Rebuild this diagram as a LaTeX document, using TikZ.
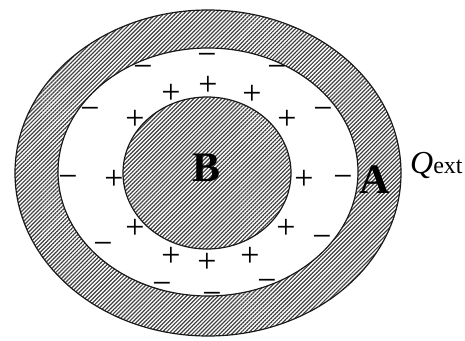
\documentclass[tikz,border=0pt]{standalone}
\usepackage{fontspec}
\setmainfont{Liberation Serif}
\usetikzlibrary{patterns.meta}
\begin{document}
\begin{tikzpicture}[x=1pt,y=-1pt,
  hatch/.style={pattern={Lines[angle=45,distance=2.8pt,line width=1.2pt]},pattern color=black!75},
  rim/.style={draw=black!90,line width=1.2pt},
  sign/.style={inner sep=0pt,text height=19.6pt,text depth=0pt,font=\fontsize{34}{34}\selectfont},
  lbl/.style={inner sep=0pt,font=\fontsize{42}{42}\selectfont\bfseries}]
\useasboundingbox (0,0) rectangle (465,340);
% shell A
\fill[hatch,even odd rule] (208,173) ellipse [x radius=193pt,y radius=163pt]
  (208,172) ellipse [x radius=150pt,y radius=124pt];
\draw[rim] (208,173) ellipse [x radius=193pt,y radius=163pt];
\draw[rim] (208,172) ellipse [x radius=150pt,y radius=124pt];
% sphere B
\fill[hatch] (207,173) ellipse [x radius=84pt,y radius=76pt];
\draw[rim] (207,173) ellipse [x radius=84pt,y radius=76pt];
% labels
\node[lbl] (B) at (207,168) {B};
\node[lbl] (A) at (375,180) {A};
\node[inner sep=0pt,anchor=base west] (Q) at (410,173)
  {{\fontsize{32}{32}\selectfont\itshape Q}{\fontsize{24}{24}\selectfont ext}};
% plus charges
\foreach \x/\y [count=\i] in {208/86,171/94,252/95,135/120,287/120,114/180,304/180,
  135/229,286/229,171/257,207/263,250/257}
  \node[sign] (p\i) at (\x,\y) {+};
% minus charges
\foreach \x/\y [count=\i] in {207/56,143/68,277/68,90/110,323/110,68/178,343/178,
  103/245,322/238,162/285,267/282,212/295}
  \node[sign] (m\i) at (\x,\y) {−};
\end{tikzpicture}
\end{document}
